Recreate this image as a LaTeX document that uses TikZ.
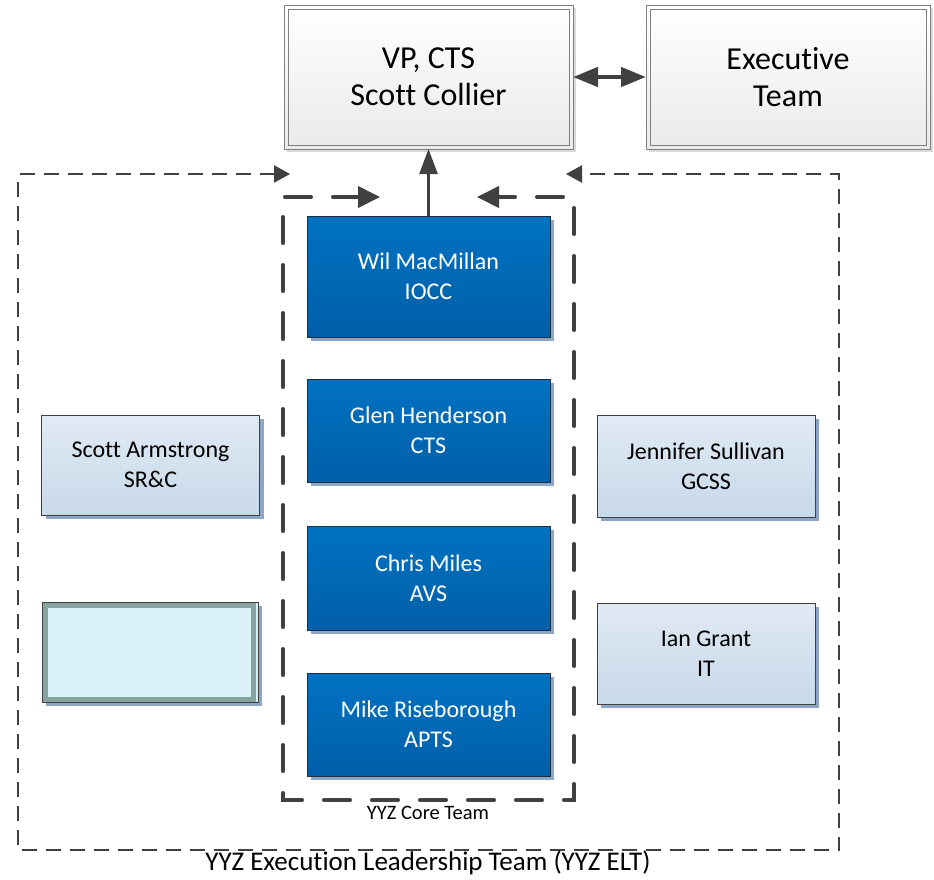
\documentclass[tikz,border=0pt]{standalone}
\usepackage{fontspec}
\setmainfont{Carlito}[Ligatures=NoCommon]
\usetikzlibrary{arrows.meta,calc,shadows}
\definecolor{ln}{HTML}{404040}
\definecolor{grayln}{HTML}{808080}
\definecolor{grayshadow}{HTML}{D9D9D9}
\definecolor{graybot}{HTML}{EAEAEA}
\definecolor{bluetop}{HTML}{0072C2}
\definecolor{bluebot}{HTML}{005FA8}
\definecolor{blueln}{HTML}{1C2E40}
\definecolor{blueshadow}{HTML}{8DA6C6}
\definecolor{lighttop}{HTML}{E0EAF4}
\definecolor{lightbot}{HTML}{C8D9E9}
\definecolor{emptyfill}{HTML}{DAF1F8}
\definecolor{emptyln}{HTML}{87A3A0}
\definecolor{dashshadow}{HTML}{E4E4E4}
\tikzset{
  graybox/.style={draw=grayln, line width=0.9pt, top color=white, bottom color=graybot,
    drop shadow={shadow xshift=3pt, shadow yshift=-3pt, fill=grayshadow, opacity=1},
    font=\fontsize{32}{37}\selectfont, align=center, inner sep=0pt, outer sep=0pt},
  bluebox/.style={draw=blueln, line width=0.8pt, top color=bluetop, bottom color=bluebot,
    text=white, drop shadow={shadow xshift=4pt, shadow yshift=-4pt, fill=blueshadow, opacity=1},
    font=\fontsize{24}{30}\selectfont, align=center, inner sep=0pt, outer sep=0pt,
    minimum width=243pt},
  lightbox/.style={draw=ln, line width=0.8pt, top color=lighttop, bottom color=lightbot,
    drop shadow={shadow xshift=4pt, shadow yshift=-4pt, fill=blueshadow, opacity=1},
    font=\fontsize{24}{29.5}\selectfont, align=center, inner sep=0pt, outer sep=0pt,
    minimum width=218pt},
  emptybox/.style={draw=ln, line width=0.8pt, fill=emptyfill,
    drop shadow={shadow xshift=4pt, shadow yshift=-4pt, fill=blueshadow, opacity=1},
    inner sep=0pt, outer sep=0pt, minimum width=216pt, minimum height=100pt},
  eltline/.style={draw=ln, line width=2pt, dash pattern=on 15pt off 9pt},
  eltshadow/.style={draw=dashshadow, line width=2pt, dash pattern=on 15pt off 9pt},
  coreline/.style={draw=ln, line width=4pt, line cap=round, dash pattern=on 26pt off 22pt},
  coreshadow/.style={draw=dashshadow, line width=4pt, line cap=round, dash pattern=on 26pt off 22pt},
  thintips/.style={arrows={Triangle[length=16pt,width=17pt]-Triangle[length=16pt,width=17pt]}},
  coretips/.style={arrows={Triangle[length=22pt,width=21pt]-Triangle[length=22pt,width=21pt]}},
  lbl/.style={inner sep=0pt, outer sep=0pt}
}
\begin{document}
\begin{tikzpicture}[x=1pt,y=-1pt]
\useasboundingbox[fill=white] (0,0) rectangle (934,879);

% top boxes
\node[graybox, minimum width=289pt, minimum height=144pt] (vp) at (428.5,77) {VP, CTS\\Scott Collier};
\node[graybox, minimum width=284pt, minimum height=144pt] (exec) at (788,77) {Executive\\Team};
\draw[grayln, line width=0.9pt] ($(vp.north west)+(4,4)$) rectangle ($(vp.south east)+(-4,-4)$);
\draw[grayln, line width=0.9pt] ($(exec.north west)+(4,4)$) rectangle ($(exec.south east)+(-4,-4)$);

% coordinates of dashed outlines
\coordinate (eltA) at (290,174);
\coordinate (eltTL) at (18,174);
\coordinate (eltBL) at (18,850);
\coordinate (eltBR) at (839,850);
\coordinate (eltTR) at (839,174);
\coordinate (eltB) at (566,174);
\coordinate (coreA) at (380,197);
\coordinate (coreTL) at (283,197);
\coordinate (coreBL) at (283,800);
\coordinate (coreBR) at (574,800);
\coordinate (coreTR) at (574,197);
\coordinate (coreB) at (477,197);

% shadows of dashed outlines
\begin{scope}[shift={(3,3)}]
\draw[eltshadow, thintips, dashshadow] (eltA) -- (eltTL) -- (eltBL) -- (eltBR) -- (eltTR) -- (eltB);
\draw[coreshadow, coretips, dashshadow] (coreA) -- (coreTL) -- (coreBL) -- (coreBR) -- (coreTR) -- (coreB);
\end{scope}

% ELT outline
\draw[eltline, thintips] (eltA) -- (eltTL) -- (eltBL) -- (eltBR) -- (eltTR) -- (eltB);

% core outline
\draw[coreline, coretips] (coreA) -- (coreTL) -- (coreBL) -- (coreBR) -- (coreTR) -- (coreB);

% blue boxes
\node[bluebox, minimum height=121pt] (wil) at (428.5,276.5) {Wil MacMillan\\IOCC};
\node[bluebox, minimum height=103pt] (glen) at (428.5,430.5) {Glen Henderson\\CTS};
\node[bluebox, minimum height=104pt] (chris) at (428.5,578) {Chris Miles\\AVS};
\node[bluebox, minimum height=103pt] (mike) at (428.5,724.5) {Mike Riseborough\\APTS};

% side boxes
\node[lightbox, minimum height=100pt] (scott) at (150.5,465) {Scott Armstrong\\SR\&C};
\node[emptybox] (empty) at (150,652) {};
\draw[emptyln, line width=5pt] ($(empty.north west)+(3.5,3.5)$) rectangle ($(empty.south east)+(-5,-3)$);
\node[lightbox, minimum height=102pt] (jen) at (706,466) {Jennifer Sullivan\\GCSS};
\node[lightbox, minimum height=101pt] (ian) at (706,653.5) {Ian Grant\\IT};

% connectors
\draw[ln, line width=2.5pt, -{Triangle[length=25pt,width=18pt]}] (wil.north) -- (vp.south);
\draw[ln, line width=4.5pt, {Triangle[length=25pt,width=19pt]}-{Triangle[length=25pt,width=19pt]}] (vp.east) -- (exec.west);

% labels
\node[lbl, font=\fontsize{20.5}{24}\selectfont] (coreLbl) at (428,813) {YYZ Core Team};
\node[lbl, font=\fontsize{27}{32}\selectfont] (eltLbl) at (428,863) {YYZ Execution Leadership Team (YYZ ELT)};
\end{tikzpicture}
\end{document}
